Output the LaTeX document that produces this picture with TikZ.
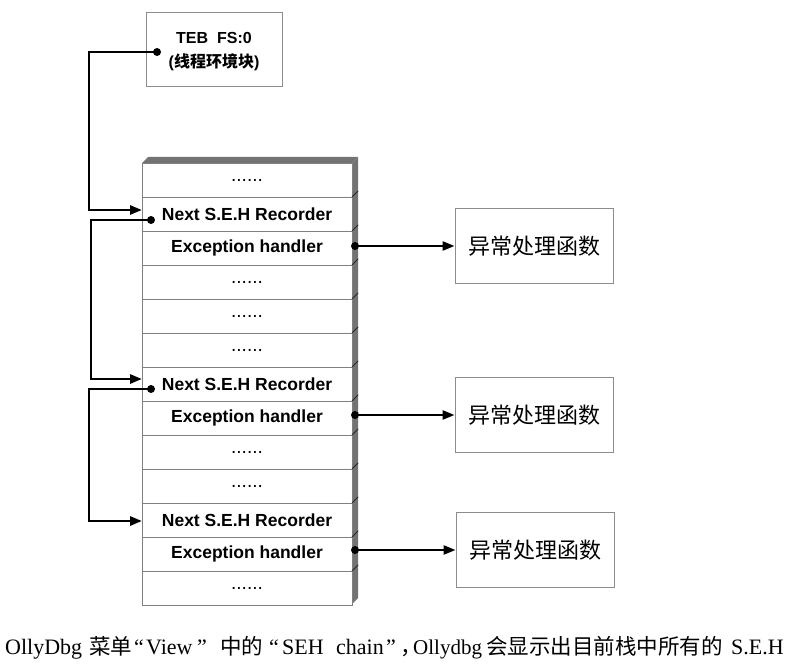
\documentclass[tikz,border=0pt]{standalone}
\usepackage{fontspec}
\setmainfont{Liberation Sans}
\newfontfamily\cjk{Noto Sans CJK SC}
\newfontfamily\capser{Liberation Serif}
\usetikzlibrary{arrows.meta}
\begin{document}
\begin{tikzpicture}[x=1pt,y=-1pt,
  cell/.style={draw=black!50, line width=0.9pt, minimum width=210pt, minimum height=34pt, inner sep=0pt, fill=white, font=\fontsize{17.5}{17.5}\selectfont\bfseries},
  dotcell/.style={cell, font=\fontsize{19}{19}\selectfont},
  hbox/.style={draw=black!45, line width=0.9pt, minimum width=158pt, minimum height=75pt, inner sep=0pt, font=\cjk\fontsize{22}{22}\selectfont},
  conn/.style={line width=2.8pt, -{Triangle[length=12pt,width=9pt]}},
  dotc/.style={circle, fill=black, inner sep=0pt, minimum size=8pt},
  face/.style={fill=black!55},
  tick/.style={draw=black!85, line width=0.8pt},
  capl/.style={anchor=base west, inner sep=0pt, font=\capser\fontsize{22}{22}\selectfont},
  capc/.style={anchor=base west, inner sep=0pt, font=\cjk\fontsize{21.5}{21.5}\selectfont}
]
\useasboundingbox[fill=white] (0,0) rectangle (800,668);

% TEB box
\node[draw=black!45, line width=0.9pt, minimum width=136pt, minimum height=74pt, inner sep=0pt] (teb) at (214,49) {};
\node[align=center, inner sep=0pt, font=\fontsize{16}{24}\selectfont\bfseries] (tebtxt) at (214,52)
      {TEB\ \ FS:0\\({\cjk\bfseries 线程环境块})};

% stack 3D faces
\fill[face] (142,163) -- (148,157) -- (358,157) -- (352,163) -- cycle;
\fill[face] (352,163) -- (358,157) -- (358,598) -- (352,604) -- cycle;

% stack cells
\node[dotcell] (r1)  at (247,180) {......};
\node[cell]    (r2)  at (247,214) {Next S.E.H Recorder};
\node[cell]    (r3)  at (247,248) {Exception handler};
\node[dotcell] (r4)  at (247,282) {......};
\node[dotcell] (r5)  at (247,316) {......};
\node[dotcell] (r6)  at (247,350) {......};
\node[cell]    (r7)  at (247,384) {Next S.E.H Recorder};
\node[cell]    (r8)  at (247,418) {Exception handler};
\node[dotcell] (r9)  at (247,452) {......};
\node[dotcell] (r10) at (247,486) {......};
\node[cell]    (r11) at (247,520) {Next S.E.H Recorder};
\node[cell]    (r12) at (247,554) {Exception handler};
\node[dotcell] (r13) at (247,588) {......};

% ticks on the side face
\foreach \k in {1,...,12}{
  \draw[tick] (352,163+34*\k) -- (358,157+34*\k);
}

% handler boxes
\node[hbox] (h1) at (534,246) {异常处理函数};
\node[hbox] (h2) at (534,415) {异常处理函数};
\node[hbox] (h3) at (535,550) {异常处理函数};

% left chain
\node[dotc] (tebdot) at (157,52) {};
\node[dotc] (n1dot) at (151,220) {};
\node[dotc] (n2dot) at (151,389) {};
\coordinate (a1) at (142,210);
\coordinate (a2) at (142,379);
\coordinate (a3) at (142,521);
\draw[conn] (tebdot.center) -- ++(-68,0) |- (a1);
\draw[conn] (n1dot.center) -- ++(-60,0) |- (a2);
\draw[conn] (n2dot.center) -- ++(-62,0) |- (a3);

% right handler links
\node[dotc] (e1) at (355,246) {};
\node[dotc] (e2) at (355,415) {};
\node[dotc] (e3) at (355,550) {};
\draw[conn, line width=2.4pt] (e1.center) -- (h1.west);
\draw[conn, line width=2.4pt] (e2.center) -- (h2.west);
\draw[conn, line width=2.4pt] (e3.center) -- (h3.west);

% caption line
\node[capl] (c1)  at (5,654)   {OllyDbg};
\node[capc] (c2)  at (89,654)  {菜单};
\node[capl] (c3)  at (134,654) {“};
\node[capl] (c4)  at (146,654) {View};
\node[capl] (c5)  at (197,654) {”};
\node[capc] (c6)  at (220,654) {中的};
\node[capl] (c7)  at (269,654) {“};
\node[capl] (c8)  at (282,654) {SEH};
\node[capl] (c9)  at (336,654) {chain};
\node[capl] (c10) at (386,654) {”};
\node[capc] (c11) at (400,654) {\makebox[13pt][l]{，}{\capser\fontsize{21}{21}\selectfont Ollydbg}};
\node[capc] (c13) at (486,654) {会显示出目前栈中所有的};
\node[capl] (c14) at (731,654) {S.E.H};
\end{tikzpicture}
\end{document}
